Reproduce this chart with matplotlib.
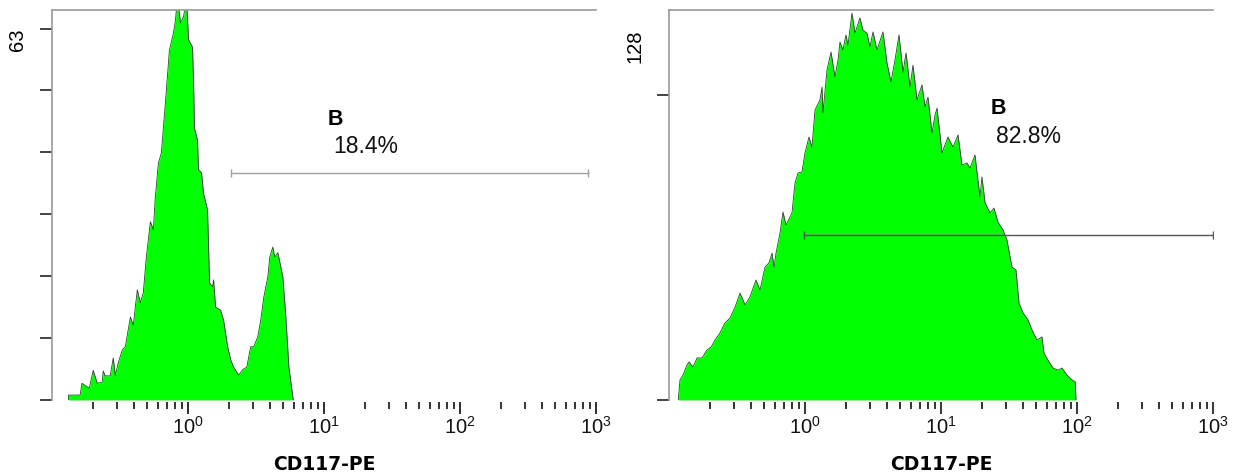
import numpy as np
import matplotlib.pyplot as plt
from matplotlib.ticker import FixedLocator, LogLocator, NullFormatter

plt.rcParams['font.family'] = ['Liberation Sans', 'DejaVu Sans']

# CD117-PE intensity / event counts
left_x = [0.132, 0.132, 0.161, 0.166, 0.188, 0.201, 0.215, 0.234, 0.238, 0.246,
          0.268, 0.282, 0.292, 0.307, 0.329, 0.346, 0.377, 0.396, 0.424, 0.446,
          0.469, 0.494, 0.529, 0.556, 0.575, 0.606, 0.637, 0.682, 0.730, 0.782,
          0.809, 0.837, 0.881, 0.927, 0.975, 1.01, 1.08, 1.099, 1.117, 1.175,
          1.195, 1.258, 1.301, 1.393, 1.441, 1.516, 1.542, 1.596, 1.738, 1.827,
          1.957, 2.06, 2.167, 2.359, 2.525, 2.704, 2.892, 3.042, 3.258, 3.427,
          3.607, 3.863, 3.993, 4.204, 4.348, 4.579, 4.982, 5.245, 5.52, 5.905,
          5.95]
left_y = [0, 0.8, 0.8, 2.7, 1.9, 4.8, 2.7, 2.9, 4.7, 3.9,
          3.9, 6.8, 4.0, 6.0, 8.1, 8.6, 13.4, 12.1, 17.8, 15.7,
          17.3, 23.1, 28.8, 27.5, 32.8, 38.3, 39.9, 48.0, 56.5, 59.3,
          61.4, 65.0, 60.9, 61.9, 65.0, 58.2, 57.0, 51.2, 43.9, 42.0,
          37.2, 36.7, 33.4, 30.7, 18.9, 18.3, 19.4, 15.0, 14.5, 12.9,
          8.6, 6.5, 5.3, 4.0, 4.9, 5.3, 8.6, 8.6, 10.2, 12.9,
          16.6, 19.9, 23.1, 24.7, 23.1, 23.8, 19.9, 13.4, 5.3, 0.5,
          0]

right_x = [0.117, 0.1205, 0.1268, 0.1357, 0.1403, 0.150, 0.1607, 0.175, 0.190, 0.204,
           0.218, 0.237, 0.258, 0.281, 0.306, 0.333, 0.362, 0.394, 0.436, 0.467,
           0.508, 0.543, 0.572, 0.592, 0.612, 0.655, 0.689, 0.725, 0.802, 0.844,
           0.888, 0.950, 1.0, 1.07, 1.125, 1.185, 1.289, 1.334, 1.356, 1.451,
           1.553, 1.662, 1.749, 1.808, 1.902, 2.0, 2.071, 2.216, 2.332, 2.536,
           2.668, 2.856, 3.005, 3.162, 3.383, 3.747, 4.008, 4.288, 4.588, 4.911,
           5.254, 5.532, 5.917, 6.222, 6.663, 7.248, 7.626, 8.023, 8.588, 9.035,
           9.35, 10.17, 11.25, 12.25, 13.34, 14.27, 15.53, 16.34, 17.78, 19.35,
           20.0, 21.08, 22.93, 24.52, 26.25, 28.57, 30.56, 33.28, 35.59, 37.48,
           40.09, 43.63, 46.68, 50.8, 55.3, 57.2, 61.2, 66.6, 72.5, 77.6,
           84.4, 91.8, 97.0, 98.4]
right_y = [0, 6.6, 8.2, 11.5, 12.5, 10.8, 13.8, 13.8, 16.4, 17.4,
           19.7, 22.0, 25.3, 26.9, 30.5, 35.1, 31.2, 33.8, 39.4, 36.1,
           43.6, 45.0, 48.2, 43.6, 48.2, 54.8, 61.7, 57.4, 61.4, 71.2,
           74.5, 74.8, 81.1, 86.3, 83.0, 95.2, 98.5, 102.7, 94.2, 108.3,
           114.2, 106.0, 111.6, 117.5, 114.9, 119.8, 116.5, 127.0, 120.4, 125.4,
           121.4, 120.4, 115.9, 120.8, 114.9, 120.8, 110.6, 104.4, 111.6, 119.8,
           107.6, 113.9, 102.7, 109.9, 98.5, 103.4, 96.2, 99.4, 87.6, 93.5,
           95.8, 81.1, 86.3, 83.0, 87.0, 77.1, 77.8, 76.1, 80.4, 66.6,
           73.2, 64.7, 61.4, 63.0, 58.4, 55.8, 52.5, 43.6, 42.7, 31.8,
           28.6, 26.3, 23.0, 19.7, 20.7, 15.4, 13.1, 10.5, 9.8, 10.5,
           8.2, 6.6, 6.0, 0]

left_ymax = 63
right_ymax = 128
left_yticks = [0, 10, 20, 30, 40, 50, 60]
right_yticks = [0, 100]

# gate B: (start, end, drawn at count)
left_gate = (2.06, 873, 36.7)
right_gate = (0.99, 1000, 54.2)
left_pct = '18.4%'
right_pct = '82.8%'

x_range = (0.1, 1000)
x_major = [1, 10, 100, 1000]


def draw_panel(ax, xs, ys, ymax, yticks, gate, pct, gate_color, b_at, pct_at, ylab_at):
    ax.fill_between(xs, ys, 0, color='#00ff00', linewidth=0)
    ax.plot(xs, ys, color='#3a3a3a', linewidth=0.6)

    ax.set_xscale('log')
    ax.set_xlim(*x_range)
    ax.set_ylim(0, ymax)

    ax.spines['right'].set_visible(False)
    ax.spines['bottom'].set_position(('outward', 1.5))
    ax.spines['bottom'].set_color('none')
    for s in ['left', 'top']:
        ax.spines[s].set_color('#9a9a9a')
        ax.spines[s].set_linewidth(1.2)

    ax.xaxis.set_major_locator(FixedLocator(x_major))
    ax.xaxis.set_minor_locator(LogLocator(base=10, subs=np.arange(2, 10), numticks=20))
    ax.xaxis.set_minor_formatter(NullFormatter())
    ax.tick_params(axis='x', which='major', length=8.6, width=1.2, color='#111111',
                   pad=1.5, labelsize=14.5, labelcolor='#111111')
    ax.tick_params(axis='x', which='minor', length=5.3, width=1.2, color='#111111')
    ax.set_yticks(yticks)
    ax.tick_params(axis='y', length=8.6, width=1.1, color='#111111', labelleft=False)

    lo, hi, gy = gate
    ax.plot([lo, hi], [gy, gy], color=gate_color, linewidth=1.0)
    ax.plot([lo, hi], [gy, gy], linestyle='none', marker='|', markersize=6,
            color=gate_color)

    ax.text(b_at[0], b_at[1], 'B', fontsize=15.5, fontweight='bold', va='baseline')
    ax.text(pct_at[0], pct_at[1], pct, fontsize=16.5, va='baseline', color='#111111')

    ax.text(ylab_at[0], ylab_at[1], str(ymax), transform=ax.transAxes, rotation=90,
            ha='center', va='center', fontsize=14.5)

    ax.set_xlabel('CD117-PE', fontsize=13.5, fontweight='bold', family='DejaVu Sans')
    ax.xaxis.set_label_coords(0.5, -0.141)


fig = plt.figure(figsize=(12.37, 4.76), dpi=100)
ax1 = fig.add_axes([52 / 1237, 76 / 476, 544 / 1237, 390 / 476])
ax2 = fig.add_axes([669 / 1237, 76 / 476, 544 / 1237, 390 / 476])

draw_panel(ax1, left_x, left_y, left_ymax, left_yticks, left_gate, left_pct,
           '#a0a0a0', (10.7, 44.4), (11.6, 39.9), (-0.064, 0.923))
draw_panel(ax2, right_x, right_y, right_ymax, right_yticks, right_gate, right_pct,
           '#555555', (23.3, 93.9), (25.4, 84.3), (-0.0625, 0.908))

fig.savefig('out.png', dpi=100)
plt.close(fig)
